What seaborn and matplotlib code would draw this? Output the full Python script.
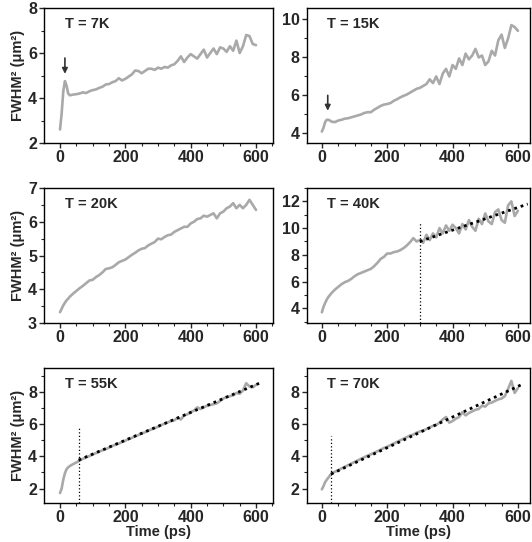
import matplotlib
matplotlib.use("Agg")
import matplotlib.pyplot as plt
from matplotlib.ticker import MultipleLocator
import pandas as pd
import seaborn as sns

sns.set_style("ticks")
plt.rcParams["font.family"] = ["Liberation Sans", "DejaVu Sans"]
plt.rcParams["font.weight"] = "bold"

# time axis (ps), shared by all panels
time_ps = [0, 5, 10, 15, 20, 25, 30] + list(range(40, 601, 10))

fwhm_7k = [2.6, 3.3, 4.3, 4.75, 4.55, 4.2, 4.12, 4.15, 4.17, 4.2, 4.25, 4.22, 4.3,
           4.35, 4.38, 4.45, 4.5, 4.6, 4.62, 4.7, 4.75, 4.88, 4.78, 4.85, 4.95,
           5.05, 5.22, 5.2, 5.1, 5.2, 5.3, 5.3, 5.25, 5.35, 5.3, 5.38, 5.35, 5.45,
           5.5, 5.65, 5.85, 5.6, 5.8, 5.95, 5.85, 5.75, 5.95, 6.15, 5.8, 6.0, 6.2,
           5.95, 6.25, 6.2, 6.05, 6.3, 6.1, 6.55, 6.0, 6.3, 6.8, 6.75, 6.4, 6.35]

fwhm_15k = [4.1, 4.3, 4.6, 4.72, 4.72, 4.68, 4.62, 4.6, 4.68, 4.72, 4.78, 4.8, 4.85,
            4.9, 4.95, 5.0, 5.08, 5.12, 5.12, 5.25, 5.35, 5.45, 5.52, 5.55, 5.6,
            5.72, 5.8, 5.9, 5.98, 6.05, 6.15, 6.25, 6.35, 6.4, 6.5, 6.6, 6.85, 6.65,
            7.0, 6.6, 7.15, 7.4, 7.0, 7.6, 7.4, 7.95, 7.6, 8.2, 7.9, 8.1, 8.45, 8.0,
            8.1, 7.6, 7.8, 8.35, 8.1, 8.9, 9.2, 8.5, 9.0, 9.7, 9.6, 9.4]

fwhm_20k = [3.32, 3.42, 3.52, 3.6, 3.67, 3.72, 3.78, 3.87, 3.95, 4.03, 4.1, 4.18,
            4.26, 4.28, 4.36, 4.42, 4.5, 4.6, 4.62, 4.65, 4.72, 4.8, 4.84, 4.88,
            4.95, 5.02, 5.08, 5.15, 5.2, 5.22, 5.3, 5.35, 5.4, 5.5, 5.48, 5.55, 5.6,
            5.62, 5.7, 5.75, 5.8, 5.85, 5.85, 5.95, 6.0, 6.08, 6.1, 6.18, 6.15, 6.2,
            6.25, 6.1, 6.25, 6.3, 6.4, 6.45, 6.55, 6.4, 6.5, 6.4, 6.5, 6.65, 6.5, 6.35]

fwhm_40k = [3.7, 4.1, 4.4, 4.65, 4.85, 5.0, 5.15, 5.4, 5.6, 5.8, 5.95, 6.05, 6.2,
            6.4, 6.55, 6.65, 6.75, 6.85, 6.95, 7.15, 7.4, 7.7, 7.85, 8.1, 8.1, 8.2,
            8.25, 8.35, 8.5, 8.7, 8.95, 9.25, 9.0, 9.1, 8.9, 9.5, 9.1, 9.6, 9.3,
            10.0, 9.6, 10.2, 9.8, 10.25, 10.0, 9.6, 10.3, 9.9, 10.6, 10.1, 9.8, 10.7,
            10.3, 11.1, 10.5, 10.3, 11.2, 11.4, 10.6, 10.4, 11.7, 12.0, 10.9, 11.3]

fwhm_55k = [1.72, 2.0, 2.55, 2.95, 3.2, 3.32, 3.4, 3.52, 3.62, 3.75, 3.85, 3.95,
            4.02, 4.12, 4.2, 4.3, 4.38, 4.45, 4.55, 4.65, 4.73, 4.8, 4.9, 4.98,
            5.08, 5.15, 5.25, 5.33, 5.42, 5.5, 5.6, 5.68, 5.75, 5.85, 5.95, 6.03,
            6.12, 6.2, 6.25, 6.4, 6.3, 6.55, 6.62, 6.75, 6.85, 7.05, 6.95, 7.05,
            7.15, 7.2, 7.25, 7.3, 7.45, 7.6, 7.7, 7.75, 7.8, 7.95, 7.9, 8.1, 8.55,
            8.35, 8.3, 8.45]

fwhm_70k = [1.95, 2.15, 2.4, 2.55, 2.68, 2.82, 2.93, 3.05, 3.13, 3.25, 3.35, 3.45,
            3.55, 3.65, 3.75, 3.85, 3.95, 4.05, 4.13, 4.22, 4.32, 4.42, 4.52, 4.6,
            4.7, 4.8, 4.9, 5.0, 5.1, 5.2, 5.3, 5.35, 5.48, 5.55, 5.6, 5.7, 5.8, 5.9,
            5.95, 6.1, 6.3, 6.45, 6.1, 6.2, 6.35, 6.45, 6.75, 6.55, 6.7, 6.8, 6.9,
            6.95, 7.15, 7.1, 7.3, 7.35, 7.45, 7.55, 7.6, 7.75, 8.2, 8.7, 7.95, 8.25]

# linear fits (endpoints) and fit-start markers
fit_40k_t, fit_40k_y = [300, 630], [9.0, 11.8]
fit_55k_t, fit_55k_y = [57, 610], [3.77, 8.55]
fit_70k_t, fit_70k_y = [28, 615], [2.9, 8.5]
vline_40k = (300, 10.4)
vline_55k = (57, 5.9)
vline_70k = (28, 5.25)

temps = ["T = 7K", "T = 15K", "T = 20K", "T = 40K", "T = 55K", "T = 70K"]
series = [fwhm_7k, fwhm_15k, fwhm_20k, fwhm_40k, fwhm_55k, fwhm_70k]
ylims = [(2, 8), (3.5, 10.6), (3, 7), (2.9, 13), (1.1, 9.5), (1.1, 9.5)]
ymajor = [2, 2, 1, 2, 2, 2]
fits = [None, None, None, (fit_40k_t, fit_40k_y, vline_40k),
        (fit_55k_t, fit_55k_y, vline_55k), (fit_70k_t, fit_70k_y, vline_70k)]
arrows = [(15, 5.9, 4.95), (18, 6.15, 5.05), None, None, None, None]

fig = plt.figure(figsize=(5.32, 5.42), dpi=100)
W, H = 532, 542
rows = [(8, 143), (188, 323), (368, 503)]
cols = [(44, 273, (-49, 652)), (306.5, 530, (-47, 637))]

for i in range(6):
    r, c = divmod(i, 2)
    top, bot = rows[r]
    x0, x1, xlim = cols[c]
    ax = fig.add_axes([x0 / W, (H - bot) / H, (x1 - x0) / W, (bot - top) / H])
    df = pd.DataFrame({"t": time_ps, "y": series[i]})
    sns.lineplot(data=df, x="t", y="y", ax=ax, color="#a9a9a9", linewidth=1.9)
    if fits[i] is not None:
        ft, fy, (vx, vtop) = fits[i]
        ax.plot(ft, fy, color="black", linestyle=(0, (1, 1.4)), linewidth=2)
        ax.plot([vx, vx], [ylims[i][0], vtop], color="black",
                linestyle=(0, (1, 1.8)), linewidth=0.9)
    if arrows[i] is not None:
        ax_t, y_from, y_to = arrows[i]
        ax.annotate("", xy=(ax_t, y_to), xytext=(ax_t, y_from),
                    arrowprops=dict(arrowstyle="-|>", color="#333333", lw=1.2,
                                    mutation_scale=8))
    ax.set_xlim(*xlim)
    ax.set_ylim(*ylims[i])
    ax.xaxis.set_major_locator(MultipleLocator(200))
    ax.xaxis.set_minor_locator(MultipleLocator(50))
    ax.yaxis.set_major_locator(MultipleLocator(ymajor[i]))
    ax.yaxis.set_minor_locator(MultipleLocator(ymajor[i] / 2))
    ax.tick_params(which="major", length=3.5, width=1, labelsize=11.5, pad=1.5)
    ax.tick_params(which="minor", length=2, width=0.8)
    for lab in ax.get_xticklabels() + ax.get_yticklabels():
        lab.set_fontweight("bold")
    for sp in ax.spines.values():
        sp.set_linewidth(1)
        sp.set_color("black")
    ax.text(0.09, 0.88, temps[i], transform=ax.transAxes, fontsize=10.5,
            fontweight="bold", va="center", ha="left")
    ax.set_xlabel("Time (ps)" if r == 2 else "", fontsize=10.5, fontweight="bold",
                  labelpad=0)
    ax.set_ylabel("FWHM\u00b2 (\u03bcm\u00b2)" if c == 0 else "", fontsize=10.5,
                  fontweight="bold", labelpad=2)

fig.savefig("out.png", dpi=100)
